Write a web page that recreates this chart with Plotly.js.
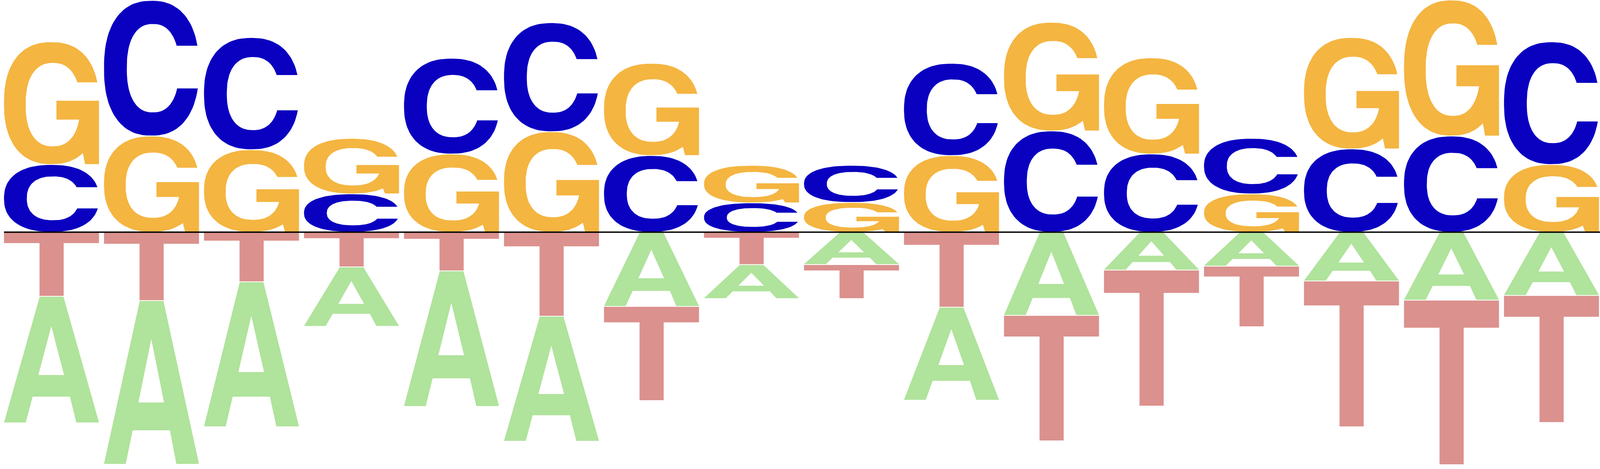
<!DOCTYPE html>
<html>
<head>
<meta charset="utf-8">
<script src="https://cdn.plot.ly/plotly-3.0.1.min.js"></script>
<style>
    html, body { margin: 0; padding: 0; background: #FFFFFF; overflow: hidden; }
    #logo { width: 100vw; height: 100vh; }
</style>
</head>
<body>
<div id="logo"></div>
<script>
// Position-wise letter heights (C, G above the baseline, A, T below)
const positions = [1, 2, 3, 4, 5, 6, 7, 8, 9, 10, 11, 12, 13, 14, 15, 16];
const valA = [-3.24, -4.19, -3.71, -1.52, -3.47, -3.20, -1.90, -0.87, -0.83, -2.38, -2.13, -0.97, -0.87, -1.25, -1.74, -1.62];
const valC = [1.73, 3.47, 2.87, 0.98, 2.45, 2.79, 1.96, 0.75, 0.95, 2.36, 2.59, 2.00, 1.42, 2.13, 2.46, 3.14];
const valG = [3.14, 2.46, 2.11, 1.42, 2.00, 2.57, 2.36, 0.96, 0.76, 1.96, 2.78, 2.46, 0.98, 2.85, 3.48, 1.73];
const valT = [-1.64, -1.75, -1.27, -0.89, -0.99, -2.15, -2.41, -0.83, -0.87, -1.92, -3.21, -3.48, -1.55, -3.73, -4.21, -3.25];

const letters = ['A', 'C', 'G', 'T'];
const values = { A: valA, C: valC, G: valG, T: valT };
const colors = { A: '#B0E39C', C: '#0A00C0', G: '#F4B541', T: '#DB918D' };

/**
 * Glyph outlines in a unit box (u, v in 0..1)
 */
const SE = 2.35;

function sePoint(cx, cy, rx, ry, t) {
    const c = Math.cos(t), s = Math.sin(t);
    return [
        cx + rx * Math.sign(c) * Math.pow(Math.abs(c), 2 / SE),
        cy + ry * Math.sign(s) * Math.pow(Math.abs(s), 2 / SE)
    ];
}

// angle on the right half of a superellipse at height v
function seAngle(cy, ry, v) {
    const rel = (v - cy) / ry;
    return Math.asin(Math.sign(rel) * Math.pow(Math.abs(rel), SE / 2));
}

function arc(cx, cy, rx, ry, t0, t1, steps) {
    const pts = [];
    for (let k = 0; k <= steps; k++) {
        pts.push(sePoint(cx, cy, rx, ry, t0 + (t1 - t0) * k / steps));
    }
    return pts;
}

function glyphC() {
    const oTop = seAngle(0.5, 0.5, 0.667);
    const oBot = seAngle(0.5, 0.5, 0.35);
    const iTop = seAngle(0.5, 0.328, 0.667);
    const iBot = seAngle(0.5, 0.328, 0.35);
    return arc(0.5, 0.5, 0.5, 0.5, oTop, 2 * Math.PI + oBot, 90)
        .concat(arc(0.515, 0.5, 0.275, 0.328, 2 * Math.PI + iBot, iTop, 90));
}

function glyphG() {
    const oTop = seAngle(0.5, 0.5, 0.671);
    const oEnd = 2 * Math.PI - Math.acos(Math.pow(0.66, SE / 2));
    const iStart = seAngle(0.488, 0.342, 0.365);
    const iTop = seAngle(0.488, 0.342, 0.671);
    return arc(0.5, 0.5, 0.5, 0.5, oTop, oEnd, 90)
        .concat([[0.853, 0], [1, 0], [1, 0.52], [0.552, 0.52], [0.552, 0.365]])
        .concat(arc(0.515, 0.488, 0.287, 0.342, 2 * Math.PI + iStart, iTop, 90));
}

function glyphA() {
    return [
        [0, 0], [0.376, 1], [0.626, 1], [1, 0], [0.761, 0], [0.694, 0.206],
        [0.301, 0.206], [0.362, 0.377], [0.632, 0.377], [0.498, 0.766],
        [0.362, 0.377], [0.301, 0.206], [0.229, 0]
    ];
}

function glyphT() {
    return [
        [0, 1], [1, 1], [1, 0.834], [0.628, 0.834], [0.628, 0],
        [0.374, 0], [0.374, 0.834], [0, 0.834]
    ];
}

const glyphs = { A: glyphA(), C: glyphC(), G: glyphG(), T: glyphT() };

const colLeft = 0.04;
const colWidth = 0.95;
const gap = 0.01;

// Build one filled trace per letter, one closed segment per position
const segs = { A: { x: [], y: [] }, C: { x: [], y: [] }, G: { x: [], y: [] }, T: { x: [], y: [] } };

function addGlyph(letter, i, y0, h) {
    const s = segs[letter];
    glyphs[letter].forEach(([u, v]) => {
        s.x.push(i + colLeft + u * colWidth);
        s.y.push(y0 + gap + v * (h - 2 * gap));
    });
    s.x.push(null);
    s.y.push(null);
}

positions.forEach((p, i) => {
    const pos = letters.filter(l => values[l][i] > 0).sort((a, b) => values[a][i] - values[b][i]);
    const neg = letters.filter(l => values[l][i] < 0).sort((a, b) => values[b][i] - values[a][i]);

    let top = 0;
    pos.forEach(l => {
        const h = values[l][i];
        addGlyph(l, i, top, h);
        top += h;
    });
    let bottom = 0;
    neg.forEach(l => {
        const h = -values[l][i];
        bottom -= h;
        addGlyph(l, i, bottom, h);
    });
});

const traces = letters.map(l => ({
    type: 'scatter',
    mode: 'lines',
    x: segs[l].x,
    y: segs[l].y,
    fill: 'toself',
    fillcolor: colors[l],
    line: { width: 0, color: colors[l] },
    connectgaps: false,
    hoverinfo: 'skip',
    name: l
}));

const layout = {
    autosize: true,
    margin: { t: 0, r: 0, b: 0, l: 0, pad: 0 },
    paper_bgcolor: '#FFFFFF',
    plot_bgcolor: '#FFFFFF',
    showlegend: false,
    xaxis: { range: [0, positions.length], visible: false, fixedrange: true },
    yaxis: { range: [-6.06, 5.94], visible: false, fixedrange: true },
    shapes: [{
        type: 'line',
        xref: 'x', yref: 'y',
        x0: colLeft, x1: positions.length, y0: 0, y1: 0,
        line: { color: '#000000', width: 3.5 },
        layer: 'above'
    }]
};

Plotly.newPlot('logo', traces, layout, { displayModeBar: false, staticPlot: true, responsive: true });
</script>
</body>
</html>
